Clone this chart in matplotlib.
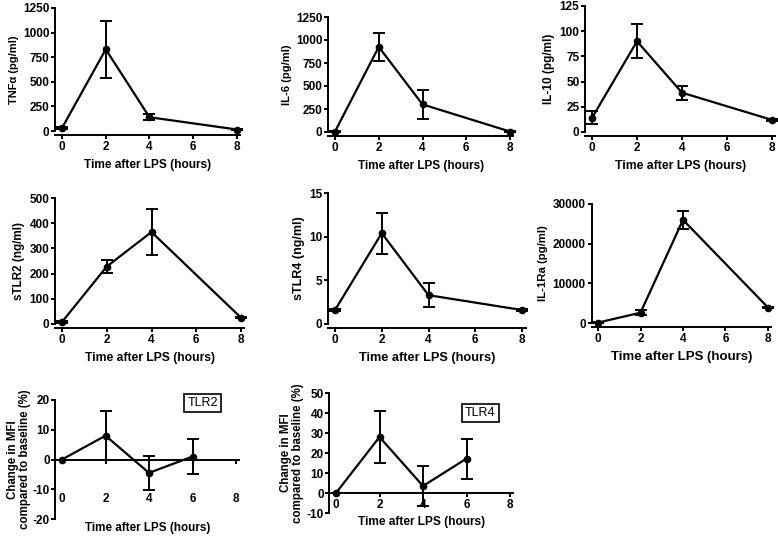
import matplotlib
matplotlib.use("Agg")
import matplotlib.pyplot as plt
import numpy as np

plt.rcParams["font.family"] = ["Liberation Sans", "DejaVu Sans"]
plt.rcParams["font.weight"] = "bold"
plt.rcParams["axes.unicode_minus"] = False

W, H = 778, 537

# time points (hours after LPS)
t_cyt = [0, 2, 4, 8]
t_mfi = [0, 2, 4, 6]

# plasma cytokines
tnf = [30, 830, 140, 15]
tnf_err = [10, 290, 30, 5]
il6 = [5, 925, 300, 5]
il6_err = [3, 150, 155, 3]
il10 = [14, 90, 39, 12]
il10_err = [6.5, 17, 7, 1]

# soluble receptors / IL-1Ra
stlr2 = [8, 228, 365, 25]
stlr2_err = [3, 27, 92, 3]
stlr4 = [1.6, 10.4, 3.3, 1.6]
stlr4_err = [0.1, 2.35, 1.4, 0.1]
il1ra = [100, 2600, 26000, 3900]
il1ra_err = [50, 600, 2300, 100]

# MFI change vs baseline
tlr2 = [0, 8, -4.5, 1]
tlr2_err = [0, 8.3, 5.7, 5.9]
tlr4 = [0, 28, 3.5, 17.2]
tlr4_err = [0, 13, 9.8, 10]

fig = plt.figure(figsize=(W / 100, H / 100), dpi=100)


def make_axes(px0, px8, py_lo, py_hi, ylo, yhi, xlim=(-0.3, 8.15)):
    """Place an axes so data x=0..8 and y=ylo..yhi land on the given pixels."""
    sx = (px8 - px0) / 8.0
    left = px0 + xlim[0] * sx
    right = px0 + xlim[1] * sx
    ax = fig.add_axes([left / W, 1 - py_lo / H, (right - left) / W, (py_lo - py_hi) / H])
    ax.set_xlim(*xlim)
    ax.set_ylim(ylo, yhi)
    for side in ("top", "right"):
        ax.spines[side].set_visible(False)
    for side in ("left", "bottom"):
        ax.spines[side].set_linewidth(1.4)
    ax.tick_params(width=1.4, length=3, pad=1.2, labelsize=8.5, direction="out")
    ax.set_xticks([0, 2, 4, 6, 8])
    return ax


def draw(ax, x, y, err):
    ax.errorbar(x, y, yerr=err, color="black", linewidth=1.6, marker="o",
                markersize=4.5, capsize=4, capthick=1.4, elinewidth=1.4,
                clip_on=False, zorder=3)


panels = [
    (62, 237, 131, 8, 0, 1250, [0, 250, 500, 750, 1000, 1250], t_cyt, tnf, tnf_err, "TNFα (pg/ml)", 8.0, 8.6),
    (335, 510, 132, 17, 0, 1250, [0, 250, 500, 750, 1000, 1250], t_cyt, il6, il6_err, "IL-6 (pg/ml)", 8.1, 8.5),
    (592, 772, 132, 6, 0, 125, [0, 25, 50, 75, 100, 125], t_cyt, il10, il10_err, "IL-10 (pg/ml)", 8.5, 8.8),
    (62, 241, 324, 198, 0, 500, [0, 100, 200, 300, 400, 500], t_cyt, stlr2, stlr2_err, "sTLR2 (ng/ml)", 8.4, 8.7),
    (335, 522, 324, 193, 0, 15, [0, 5, 10, 15], t_cyt, stlr4, stlr4_err, "sTLR4 (ng/ml)", 9.0, 9.2),
    (598, 768, 323, 204, 0, 30000, [0, 10000, 20000, 30000], t_cyt, il1ra, il1ra_err, "IL-1Ra (pg/ml)", 8.2, 9.5),
]

for px0, px8, plo, phi, ylo, yhi, yt, x, y, e, lab, yfs, xfs in panels:
    ax = make_axes(px0, px8, plo, phi, ylo, yhi)
    ax.spines["bottom"].set_position(("outward", 3))
    ax.set_yticks(yt)
    draw(ax, x, y, e)
    ax.set_ylabel(lab, fontsize=yfs, fontweight="bold", labelpad=3)
    ax.set_xlabel("Time after LPS (hours)", fontsize=xfs, fontweight="bold", labelpad=4)

mfi_label = "Change in MFI\ncompared to baseline (%)"
box = dict(boxstyle="square,pad=0.25", facecolor="white", edgecolor="black", linewidth=1.2)

ax7 = make_axes(62, 236, 519, 400, -20, 20)
ax7.spines["bottom"].set_position(("data", 0))
ax7.set_yticks([-20, -10, 0, 10, 20])
ax7.tick_params(axis="x", pad=21)
draw(ax7, t_mfi, tlr2, tlr2_err)
ax7.set_ylabel(mfi_label, fontsize=8.3, fontweight="bold", linespacing=1.0, labelpad=1)
ax7.set_xlabel("Time after LPS (hours)", fontsize=8.4, fontweight="bold", labelpad=12)
ax7.text(0.80, 0.975, "TLR2", transform=ax7.transAxes, fontsize=9, fontweight="normal",
         ha="center", va="center", bbox=box)

ax8 = make_axes(336, 510, 513, 393, -10, 50)
ax8.spines["bottom"].set_position(("data", 0))
ax8.set_yticks([-10, 0, 10, 20, 30, 40, 50])
draw(ax8, t_mfi, tlr4, tlr4_err)
ax8.set_ylabel(mfi_label, fontsize=8.3, fontweight="bold", linespacing=1.0, labelpad=2)
ax8.set_xlabel("Time after LPS (hours)", fontsize=8.6, fontweight="bold", labelpad=4)
ax8.text(0.82, 0.833, "TLR4", transform=ax8.transAxes, fontsize=9, fontweight="normal",
         ha="center", va="center", bbox=box)

fig.savefig("out.png", dpi=100)
